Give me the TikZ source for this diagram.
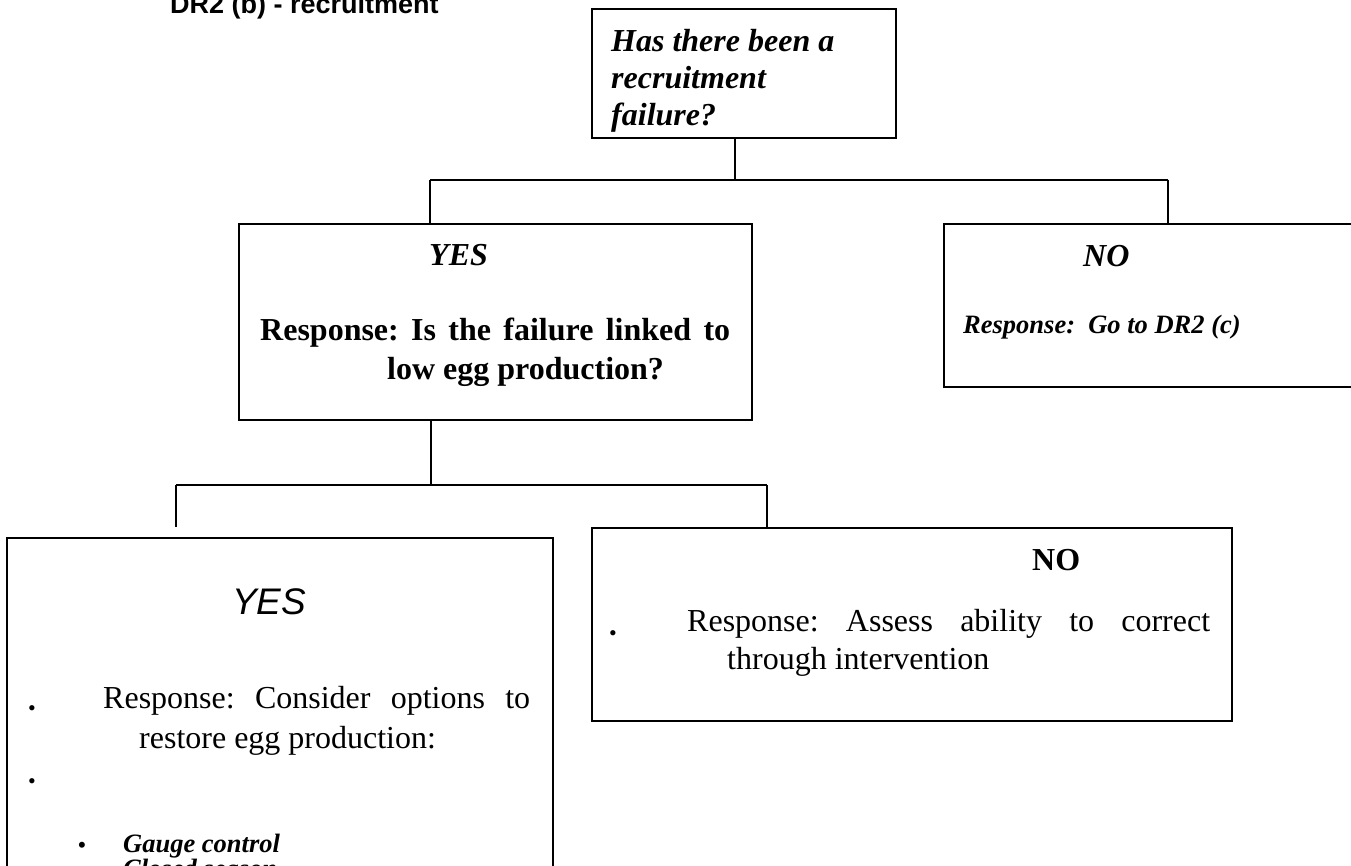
\documentclass[tikz,border=0pt]{standalone}
\usepackage{fontspec}
\setmainfont{Liberation Serif}
\newfontfamily\arialfont{Liberation Sans}
\frenchspacing
\begin{document}
\begin{tikzpicture}[x=1pt,y=-1pt,
  box/.style={draw=black,line width=1.6pt,anchor=north west,inner sep=0pt},
  conn/.style={draw=black,line width=1.6pt},
  txt/.style={anchor=base west,inner sep=0pt},
  bul/.style={anchor=base,inner sep=0pt},
  body/.style={font=\fontsize{32}{37}\selectfont},
  bodyb/.style={font=\fontsize{32}{37}\selectfont\bfseries},
  bodybi/.style={font=\fontsize{32}{37}\selectfont\bfseries\itshape},
  smallbi/.style={font=\fontsize{26.5}{30}\selectfont\bfseries\itshape}]
\useasboundingbox (0,0) rectangle (1351,866);
\clip (0,0) rectangle (1351,866);
% title
\node[txt,font=\arialfont\bfseries\fontsize{27}{31}\selectfont] (title) at (170,14) {DR2 (b) - recruitment};
% boxes
\node[box,minimum width=304pt,minimum height=129pt] (top) at (591,8) {};
\node[box,minimum width=513pt,minimum height=196pt] (yes1) at (238,223) {};
\node[box,minimum width=480pt,minimum height=163pt] (no1) at (943,223) {};
\node[box,minimum width=546pt,minimum height=380pt] (yes2) at (6,537) {};
\node[box,minimum width=640pt,minimum height=193pt] (no2) at (591,527) {};
% connectors
\coordinate (j1) at (735,180);
\coordinate (b1L) at (430,180);
\coordinate (b1R) at (1168,180);
\draw[conn] (j1 |- top.south) -- (j1);
\draw[conn] (b1L) -- (b1R);
\draw[conn] (b1L) -- (b1L |- yes1.north);
\draw[conn] (b1R) -- (b1R |- no1.north);
\coordinate (j2) at (431,485);
\coordinate (b2L) at (176,485);
\coordinate (b2R) at (767,485);
\coordinate (b2Lend) at (176,527);
\draw[conn] (j2 |- yes1.south) -- (j2);
\draw[conn] (b2L) -- (b2R);
\draw[conn] (b2L) -- (b2Lend);
\draw[conn] (b2R) -- (b2R |- no2.north);
% top box text
\node[txt,bodybi] (t1) at (611,52) {Has there been a};
\node[txt,bodybi] (t2) at (611,89) {recruitment};
\node[txt,bodybi] (t3) at (611,126) {failure?};
% middle yes box
\node[txt,bodybi] (y1a) at (429,266) {YES};
\node[txt,bodyb] (y1b) at (260,341) {\makebox[470pt][s]{Response: Is the failure linked to}};
\node[txt,bodyb] (y1c) at (387,379) {low egg production?};
% right no box
\node[txt,bodybi] (n1a) at (1083,267) {NO};
\node[txt,smallbi] (n1b) at (963,334) {Response:\ \ Go to DR2 (c)};
% bottom no box
\node[txt,bodyb] (n2a) at (1032,570) {NO};
\node[bul,font=\fontsize{22}{26}\selectfont] (n2bul) at (613,640) {\textbullet};
\node[txt,body] (n2b) at (687,631) {\makebox[523pt][s]{Response: Assess ability to correct}};
\node[txt,body] (n2c) at (727,669) {through intervention};
% bottom yes box
\node[txt,font=\arialfont\itshape\fontsize{37}{42}\selectfont] (y2a) at (232,614) {YES};
\node[bul,font=\fontsize{22}{26}\selectfont] (y2bul1) at (32,715) {\textbullet};
\node[txt,body] (y2b) at (103,708) {\makebox[427pt][s]{Response: Consider options to}};
\node[txt,body] (y2c) at (139,748) {restore egg production:};
\node[bul,font=\fontsize{22}{26}\selectfont] (y2bul2) at (32,788) {\textbullet};
\node[bul,font=\fontsize{25}{28}\selectfont] (y2bul3) at (82,853) {\textbullet};
\node[txt,smallbi] (y2d) at (123,852) {Gauge control};
\node[bul,font=\fontsize{25}{28}\selectfont] (y2bul4) at (82,878) {\textbullet};
\node[txt,smallbi] (y2e) at (123,877) {Closed season};
\end{tikzpicture}
\end{document}
